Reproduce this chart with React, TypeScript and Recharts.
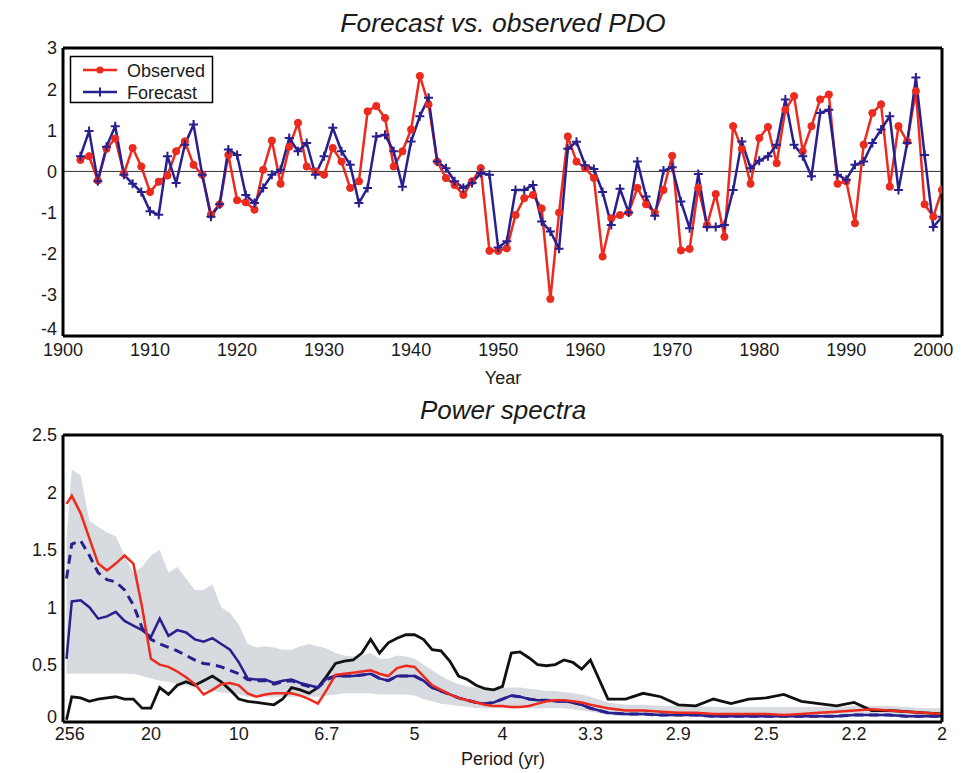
import {
  ComposedChart, Line, Area, XAxis, YAxis, ReferenceLine,
} from 'recharts'

// ---- top panel: PDO index, observed vs forecast ----
const years = [
  1902, 1903, 1904, 1905, 1906, 1907, 1908, 1909, 1910, 1911,
  1912, 1913, 1914, 1915, 1916, 1917, 1918, 1919, 1920, 1921,
  1922, 1923, 1924, 1925, 1926, 1927, 1928, 1929, 1930, 1931,
  1932, 1933, 1934, 1935, 1936, 1937, 1938, 1939, 1940, 1941,
  1942, 1943, 1944, 1945, 1946, 1947, 1948, 1949, 1950, 1951,
  1952, 1953, 1954, 1955, 1956, 1957, 1958, 1959, 1960, 1961,
  1962, 1963, 1964, 1965, 1966, 1967, 1968, 1969, 1970, 1971,
  1972, 1973, 1974, 1975, 1976, 1977, 1978, 1979, 1980, 1981,
  1982, 1983, 1984, 1985, 1986, 1987, 1988, 1989, 1990, 1991,
  1992, 1993, 1994, 1995, 1996, 1997, 1998, 1999, 2000, 2001,
]

const observed = [
  0.28, 0.37, -0.22, 0.55, 0.8, -0.05, 0.57, 0.12, -0.5, -0.25,
  -0.1, 0.49, 0.73, 0.16, -0.08, -1.05, -0.8, 0.4, -0.7, -0.75,
  -0.93, 0.04, 0.75, -0.3, 0.6, 1.18, 0.12, 0.0, -0.08, 0.57,
  0.24, -0.4, -0.24, 1.46, 1.59, 1.3, 0.12, 0.49, 1.02, 2.32,
  1.63, 0.24, -0.16, -0.33, -0.57, -0.24, 0.08, -1.93, -1.93, -1.87,
  -1.06, -0.65, -0.57, -0.9, -3.1, -1.0, 0.85, 0.24, 0.08, -0.16,
  -2.07, -1.14, -1.06, -1.0, -0.4, -0.8, -1.0, -0.45, 0.38, -1.92,
  -1.88, -0.4, -1.3, -0.55, -1.59, 1.1, 0.55, -0.3, 0.81, 1.08,
  0.2, 1.5, 1.83, 0.49, 1.1, 1.75, 1.87, -0.3, -0.24, -1.26,
  0.65, 1.42, 1.63, -0.37, 1.1, 0.73, 1.95, -0.8, -1.1, -0.45,
]

const forecast = [
  0.37, 0.98, -0.24, 0.6, 1.1, -0.08, -0.3, -0.5, -0.97, -1.05,
  0.37, -0.28, 0.65, 1.14, -0.08, -1.1, -0.8, 0.53, 0.4, -0.57,
  -0.77, -0.4, -0.08, 0.04, 0.81, 0.49, 0.69, -0.08, 0.37, 1.06,
  0.49, 0.16, -0.77, -0.4, 0.85, 0.89, 0.49, -0.37, 0.73, 1.34,
  1.79, 0.24, 0.08, -0.24, -0.4, -0.28, -0.04, -0.08, -1.85, -1.7,
  -0.45, -0.45, -0.33, -1.22, -1.46, -1.88, 0.55, 0.72, 0.15, 0.06,
  -0.5, -1.3, -0.42, -1.0, 0.24, -0.61, -1.08, 0.02, 0.1, -0.73,
  -1.38, -0.06, -1.35, -1.35, -1.3, -0.45, 0.73, 0.08, 0.26, 0.37,
  0.65, 1.75, 0.65, 0.37, -0.12, 1.42, 1.5, -0.08, -0.2, 0.16,
  0.24, 0.69, 1.02, 1.34, -0.45, 0.69, 2.28, 0.4, -1.35, -1.1,
]

const yearTicks = [1900, 1910, 1920, 1930, 1940, 1950, 1960, 1970, 1980, 1990, 2000]
const pdoTicks = [-4, -3, -2, -1, 0, 1, 2, 3]

// ---- bottom panel: power spectra vs frequency (labelled as period) ----
const freq = [
  0.002, 0.005, 0.01, 0.015, 0.02, 0.025, 0.03, 0.035, 0.04, 0.045,
  0.05, 0.055, 0.06, 0.065, 0.07, 0.075, 0.08, 0.085, 0.09, 0.095,
  0.1, 0.105, 0.11, 0.115, 0.12, 0.125, 0.13, 0.135, 0.14, 0.145,
  0.15, 0.155, 0.16, 0.165, 0.17, 0.175, 0.18, 0.185, 0.19, 0.195,
  0.2, 0.205, 0.21, 0.215, 0.22, 0.225, 0.23, 0.235, 0.24, 0.245,
  0.25, 0.255, 0.26, 0.265, 0.27, 0.275, 0.28, 0.285, 0.29, 0.295,
  0.3, 0.31, 0.32, 0.33, 0.34, 0.35, 0.36, 0.37, 0.38, 0.39,
  0.4, 0.41, 0.42, 0.43, 0.44, 0.45, 0.46, 0.47, 0.48, 0.49, 0.5,
]

const specObserved = [
  1.9, 1.97, 1.82, 1.6, 1.38, 1.32, 1.38, 1.45, 1.38, 1.0,
  0.55, 0.5, 0.48, 0.44, 0.39, 0.33, 0.24, 0.28, 0.33, 0.34,
  0.32, 0.25, 0.22, 0.24, 0.25, 0.25, 0.25, 0.23, 0.2, 0.16,
  0.28, 0.41, 0.42, 0.43, 0.44, 0.45, 0.42, 0.4, 0.47, 0.49,
  0.48, 0.4, 0.32, 0.28, 0.24, 0.21, 0.19, 0.17, 0.15, 0.14,
  0.14, 0.13, 0.13, 0.14, 0.16, 0.18, 0.19, 0.19, 0.18, 0.17,
  0.15, 0.12, 0.1, 0.1, 0.09, 0.08, 0.08, 0.07, 0.07, 0.07,
  0.07, 0.06, 0.07, 0.08, 0.09, 0.1, 0.11, 0.1, 0.09, 0.08, 0.07,
]

const specForecast = [
  0.55, 1.05, 1.06, 1.0, 0.9, 0.92, 0.96, 0.88, 0.84, 0.8,
  0.74, 0.9, 0.75, 0.8, 0.78, 0.72, 0.7, 0.73, 0.68, 0.63,
  0.52, 0.38, 0.37, 0.37, 0.34, 0.36, 0.37, 0.34, 0.32, 0.3,
  0.38, 0.4, 0.4, 0.4, 0.41, 0.42, 0.38, 0.36, 0.4, 0.4,
  0.4, 0.36, 0.3, 0.27, 0.24, 0.21, 0.19, 0.17, 0.16, 0.17,
  0.2, 0.23, 0.22, 0.2, 0.19, 0.19, 0.18, 0.18, 0.17, 0.15,
  0.12, 0.08, 0.07, 0.07, 0.06, 0.06, 0.06, 0.05, 0.05, 0.05,
  0.05, 0.05, 0.05, 0.05, 0.05, 0.06, 0.06, 0.06, 0.05, 0.05, 0.05,
]

const specEnsemble = [
  1.25, 1.55, 1.58, 1.45, 1.3, 1.24, 1.22, 1.15, 1.02, 0.82,
  0.72, 0.68, 0.65, 0.62, 0.58, 0.54, 0.51, 0.5, 0.48, 0.45,
  0.42, 0.37, 0.36, 0.36, 0.33, 0.35, 0.36, 0.33, 0.31, 0.3,
  0.37, 0.4, 0.4, 0.4, 0.41, 0.42, 0.38, 0.36, 0.4, 0.4,
  0.4, 0.36, 0.3, 0.27, 0.24, 0.21, 0.19, 0.17, 0.16, 0.17,
  0.2, 0.23, 0.22, 0.2, 0.19, 0.19, 0.18, 0.18, 0.17, 0.15,
  0.12, 0.08, 0.07, 0.07, 0.06, 0.06, 0.06, 0.05, 0.05, 0.05,
  0.05, 0.05, 0.05, 0.05, 0.05, 0.06, 0.06, 0.06, 0.05, 0.05, 0.05,
]

const specOther = [
  0.02, 0.22, 0.21, 0.18, 0.2, 0.21, 0.22, 0.2, 0.2, 0.12,
  0.12, 0.3, 0.24, 0.32, 0.35, 0.32, 0.36, 0.4, 0.35, 0.28,
  0.2, 0.18, 0.17, 0.16, 0.15, 0.2, 0.3, 0.28, 0.25, 0.3,
  0.4, 0.51, 0.53, 0.54, 0.6, 0.72, 0.6, 0.69, 0.73, 0.76,
  0.76, 0.72, 0.63, 0.62, 0.53, 0.4, 0.37, 0.32, 0.29, 0.28,
  0.31, 0.6, 0.61, 0.56, 0.5, 0.49, 0.5, 0.54, 0.52, 0.46,
  0.54, 0.2, 0.2, 0.25, 0.22, 0.15, 0.14, 0.2, 0.16, 0.2,
  0.21, 0.24, 0.18, 0.16, 0.14, 0.17, 0.1, 0.1, 0.09, 0.08, 0.07,
]

const bandLow = [
  0.42, 0.42, 0.42, 0.42, 0.42, 0.42, 0.42, 0.42, 0.42, 0.4,
  0.38, 0.36, 0.35, 0.33, 0.32, 0.3, 0.28, 0.27, 0.26, 0.25,
  0.24, 0.22, 0.22, 0.22, 0.22, 0.22, 0.22, 0.22, 0.22, 0.22,
  0.23, 0.24, 0.25, 0.25, 0.25, 0.25, 0.24, 0.24, 0.24, 0.24,
  0.23, 0.2, 0.18, 0.16, 0.15, 0.14, 0.13, 0.12, 0.12, 0.12,
  0.12, 0.12, 0.12, 0.12, 0.12, 0.12, 0.12, 0.12, 0.11, 0.1,
  0.09, 0.06, 0.05, 0.05, 0.05, 0.05, 0.05, 0.04, 0.04, 0.04,
  0.04, 0.04, 0.04, 0.04, 0.04, 0.05, 0.05, 0.05, 0.04, 0.04, 0.04,
]

const bandHigh = [
  1.6, 2.2, 2.15, 1.75, 1.7, 1.65, 1.62, 1.45, 1.3, 1.35,
  1.45, 1.5, 1.3, 1.35, 1.25, 1.15, 1.15, 1.2, 1.0, 0.95,
  0.85, 0.68, 0.65, 0.66, 0.65, 0.63, 0.63, 0.66, 0.68, 0.66,
  0.64, 0.6, 0.58, 0.57, 0.58, 0.6, 0.55, 0.55, 0.58, 0.57,
  0.55, 0.5, 0.45, 0.4, 0.36, 0.33, 0.31, 0.3, 0.3, 0.29,
  0.3, 0.3, 0.3, 0.29, 0.28, 0.27, 0.27, 0.26, 0.25, 0.24,
  0.22, 0.17, 0.15, 0.15, 0.14, 0.14, 0.14, 0.13, 0.13, 0.13,
  0.13, 0.13, 0.13, 0.13, 0.13, 0.14, 0.14, 0.14, 0.13, 0.12, 0.12,
]

const periodTicks = [1 / 256, 0.05, 0.1, 0.15, 0.2, 0.25, 0.3, 0.35, 0.4, 0.45, 0.5]
const periodLabels = ['256', '20', '10', '6.7', '5', '4', '3.3', '2.9', '2.5', '2.2', '2']
const powerTicks = [0, 0.5, 1, 1.5, 2, 2.5]

const RED = '#ec2a1e'
const BLUE = '#28208e'
const FONT = '"Liberation Sans", Arial, sans-serif'
const tickText = { fill: '#1a1a1a', fontSize: 18, fontFamily: FONT }
const frame = { stroke: '#000', strokeWidth: 3 }
const inTick = { stroke: '#000', strokeWidth: 2 }

const pdoData = years.map((year, i) => ({ year, observed: observed[i], forecast: forecast[i] }))
const specData = freq.map((f, i) => ({
  f,
  obs: specObserved[i],
  fc: specForecast[i],
  ens: specEnsemble[i],
  other: specOther[i],
  band: [bandLow[i], bandHigh[i]],
}))

const redDot = (p: any) => (
  <circle key={`o-${p.index}`} cx={p.cx} cy={p.cy} r={3.6} fill={RED} stroke={RED} strokeWidth={1} />
)
const plusDot = (p: any) => (
  <path
    key={`f-${p.index}`}
    d={`M${p.cx - 4.5},${p.cy}h9M${p.cx},${p.cy - 4.5}v9`}
    stroke={BLUE}
    strokeWidth={2}
    fill="none"
  />
)

// y tick labels; the lowest one sits a bit higher so it clears the x labels
const yTick = (lowest: number, lift: number) => (p: any) => (
  <text x={p.x} y={p.y - (p.payload.value === lowest ? lift : 0)} dy="0.355em" textAnchor="end"
    fontSize={18} fontFamily={FONT} fill="#1a1a1a">
    {String(p.payload.value)}
  </text>
)

function PdoPanel() {
  return (
    <ComposedChart width={974} height={380} data={pdoData}
      margin={{ top: 48, right: 32, bottom: 14, left: 23 }}>
      <XAxis xAxisId="b" dataKey="year" type="number" domain={[1900, 2001]} allowDataOverflow
        ticks={yearTicks} interval={0} height={30} tickSize={0} tickMargin={7}
        tickLine={false} axisLine={frame} tick={tickText} />
      <XAxis xAxisId="bi" dataKey="year" type="number" domain={[1900, 2001]} allowDataOverflow
        ticks={yearTicks} interval={0} mirror tick={false} axisLine={false} tickLine={inTick} tickSize={6} />
      <XAxis xAxisId="t" orientation="top" dataKey="year" type="number" domain={[1900, 2001]} allowDataOverflow
        ticks={yearTicks} interval={0} mirror tick={false} axisLine={frame} tickLine={inTick} tickSize={6} />
      <YAxis yAxisId="l" type="number" domain={[-4, 3]} allowDataOverflow ticks={pdoTicks} interval={0}
        width={40} tickSize={0} tickMargin={6} tickLine={false} axisLine={frame} tick={yTick(-4, 7)} />
      <YAxis yAxisId="li" type="number" domain={[-4, 3]} allowDataOverflow ticks={pdoTicks} interval={0}
        mirror tick={false} axisLine={false} tickLine={inTick} tickSize={6} />
      <YAxis yAxisId="r" orientation="right" type="number" domain={[-4, 3]} allowDataOverflow ticks={pdoTicks}
        interval={0} mirror tick={false} axisLine={frame} tickLine={inTick} tickSize={6} />
      <ReferenceLine xAxisId="b" yAxisId="l" y={0} stroke="#333" strokeWidth={1} />
      <Line xAxisId="b" yAxisId="l" dataKey="observed" type="linear" stroke={RED} strokeWidth={2.5}
        dot={redDot} activeDot={false} isAnimationActive={false} />
      <Line xAxisId="b" yAxisId="l" dataKey="forecast" type="linear" stroke={BLUE} strokeWidth={2.5}
        dot={plusDot} activeDot={false} isAnimationActive={false} />
    </ComposedChart>
  )
}

function SpectraPanel() {
  return (
    <ComposedChart width={974} height={393} data={specData}
      margin={{ top: 55, right: 32, bottom: 21, left: 23 }}>
      <XAxis xAxisId="b" dataKey="f" type="number" domain={[0, 0.5]} allowDataOverflow
        ticks={periodTicks} interval={0} height={30} tickSize={0} tickMargin={5}
        tickFormatter={(v: number) => periodLabels[periodTicks.indexOf(v)] ?? ''}
        tickLine={false} axisLine={frame} tick={tickText} />
      <XAxis xAxisId="bi" dataKey="f" type="number" domain={[0, 0.5]} allowDataOverflow
        ticks={periodTicks} interval={0} mirror tick={false} axisLine={false} tickLine={inTick} tickSize={6} />
      <XAxis xAxisId="t" orientation="top" dataKey="f" type="number" domain={[0, 0.5]} allowDataOverflow
        ticks={periodTicks} interval={0} mirror tick={false} axisLine={frame} tickLine={inTick} tickSize={6} />
      <YAxis yAxisId="l" type="number" domain={[0, 2.5]} allowDataOverflow ticks={powerTicks} interval={0}
        width={40} tickSize={0} tickMargin={6} tickLine={false} axisLine={frame} tick={yTick(0, 5)} />
      <YAxis yAxisId="li" type="number" domain={[0, 2.5]} allowDataOverflow ticks={powerTicks} interval={0}
        mirror tick={false} axisLine={false} tickLine={inTick} tickSize={6} />
      <YAxis yAxisId="r" orientation="right" type="number" domain={[0, 2.5]} allowDataOverflow ticks={powerTicks}
        interval={0} mirror tick={false} axisLine={frame} tickLine={inTick} tickSize={6} />
      <Area xAxisId="b" yAxisId="l" dataKey="band" type="linear" stroke="none" fill="#d3d6da"
        fillOpacity={0.9} isAnimationActive={false} activeDot={false} />
      <Line xAxisId="b" yAxisId="l" dataKey="other" type="linear" stroke="#111" strokeWidth={2.8}
        dot={false} activeDot={false} isAnimationActive={false} />
      <Line xAxisId="b" yAxisId="l" dataKey="ens" type="linear" stroke={BLUE} strokeWidth={3}
        strokeDasharray="9 6" dot={false} activeDot={false} isAnimationActive={false} />
      <Line xAxisId="b" yAxisId="l" dataKey="fc" type="linear" stroke={BLUE} strokeWidth={2.5}
        dot={false} activeDot={false} isAnimationActive={false} />
      <Line xAxisId="b" yAxisId="l" dataKey="obs" type="linear" stroke={RED} strokeWidth={2.5}
        dot={false} activeDot={false} isAnimationActive={false} />
    </ComposedChart>
  )
}

export default function App() {
  return (
    <div style={{ position: 'relative', width: 974, height: 773, background: '#fff', fontFamily: FONT }}>
      <style>{'body{margin:0;background:#fff}'}</style>
      <div style={{ position: 'absolute', left: 0, top: 0 }}><PdoPanel /></div>
      <div style={{ position: 'absolute', left: 0, top: 380 }}><SpectraPanel /></div>
      <svg width={974} height={773} style={{ position: 'absolute', left: 0, top: 0, pointerEvents: 'none' }}>
        <g fontFamily={FONT} fill="#1a1a1a">
          <text x={503} y={32} fontSize={26.5} fontStyle="italic" textAnchor="middle">Forecast vs. observed PDO</text>
          <text x={503} y={384} fontSize={18} textAnchor="middle">Year</text>
          <text x={503} y={419} fontSize={26} fontStyle="italic" textAnchor="middle">Power spectra</text>
          <text x={503} y={765} fontSize={18} textAnchor="middle">Period (yr)</text>
        </g>
        <rect x={70.5} y={56.5} width={142} height={46} fill="#fff" stroke="#000" strokeWidth={1.5} />
        <line x1={83} x2={117} y1={70} y2={70} stroke={RED} strokeWidth={2.5} />
        <circle cx={100} cy={70} r={3.6} fill={RED} />
        <line x1={83} x2={117} y1={92} y2={92} stroke={BLUE} strokeWidth={2.5} />
        <path d="M95.5,92h9M100,87.5v9" stroke={BLUE} strokeWidth={2} />
        <text x={127} y={76.5} fontSize={18} fontFamily={FONT} fill="#1a1a1a">Observed</text>
        <text x={127} y={98.5} fontSize={18} fontFamily={FONT} fill="#1a1a1a">Forecast</text>
      </svg>
    </div>
  )
}
